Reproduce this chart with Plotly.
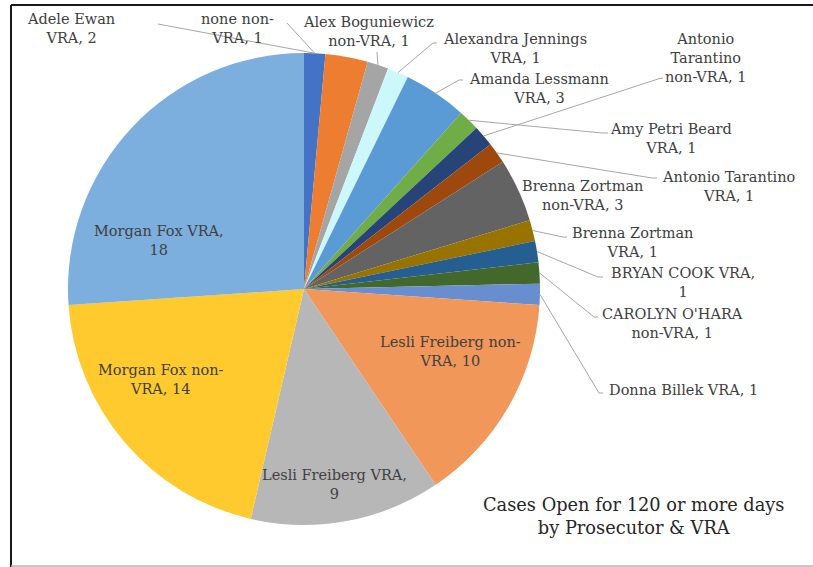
import math
import plotly.graph_objects as go

# ---------------- data ----------------
categories = [
    "none non-VRA", "Adele Ewan VRA", "Alex Boguniewicz non-VRA", "Alexandra Jennings VRA",
    "Amanda Lessmann VRA", "Amy Petri Beard VRA", "Antonio Tarantino non-VRA",
    "Antonio Tarantino VRA", "Brenna Zortman non-VRA", "Brenna Zortman VRA",
    "BRYAN COOK VRA", "CAROLYN O'HARA non-VRA", "Donna Billek VRA",
    "Lesli Freiberg non-VRA", "Lesli Freiberg VRA", "Morgan Fox non-VRA", "Morgan Fox VRA",
]
values = [1, 2, 1, 1, 3, 1, 1, 1, 3, 1, 1, 1, 1, 10, 9, 14, 18]
colors = [
    "#4472C4", "#ED7D31", "#A5A5A5", "#CCF8FC", "#5B9BD5", "#70AD47", "#264478",
    "#9E480E", "#636363", "#997300", "#255E91", "#43682B", "#698ED0",
    "#F1975A", "#B7B7B7", "#FFCA2E", "#7CAFDD",
]
# data label text, with the line breaks used in the chart
label_wrap = [
    "none non-<br>VRA, {v}", "Adele Ewan<br>VRA, {v}", "Alex Boguniewicz<br>non-VRA, {v}",
    "Alexandra Jennings<br>VRA, {v}", "Amanda Lessmann<br>VRA, {v}",
    "Amy Petri Beard<br>VRA, {v}", "Antonio<br>Tarantino<br>non-VRA, {v}",
    "Antonio Tarantino<br>VRA, {v}", "Brenna Zortman<br>non-VRA, {v}",
    "Brenna Zortman<br>VRA, {v}", "BRYAN COOK VRA,<br>{v}", "CAROLYN O'HARA<br>non-VRA, {v}",
    "Donna Billek VRA, {v}", "Lesli Freiberg non-<br>VRA, {v}", "Lesli Freiberg VRA,<br>{v}",
    "Morgan Fox non-<br>VRA, {v}", "Morgan Fox VRA,<br>{v}",
]
title_text = "Cases Open for 120 or more days<br>by Prosecutor & VRA"

# ---------------- layout (pixels) ----------------
W, H = 813, 567
# label centre positions (px)
label_pos = [
    (237, 29), (71, 29), (368, 31), (515, 48), (539, 88), (671, 138), (706, 58),
    (728, 186), (582, 195), (632, 242), (683, 282), (672, 323), (683, 390),
    (450, 351), (334, 484), (161, 379), (159, 240),
]
# leader line label-side points (px); None = no leader line
leader_start = [
    [(287, 23)], [(158, 24)], [(377, 52)], [(437, 43), (433, 43)], [(463, 80), (459, 80)],
    [(608, 133), (602, 133)], [(663, 78), (658, 79)], [(657, 178), (652, 178)], None,
    [(567, 237), (563, 237)], [(603, 277), (598, 277)], [(598, 317), (594, 317)],
    [(603, 393), (599, 393)], None, None, None, None,
]
# position along slice where the leader line touches the edge (0=start, 1=end)
leader_frac = [0.5, -0.25, 0.5, 0.5, 0.5, 0.5, 0.5, 0.5, 0.5, 0.5, 0.5, 0.5, 0.5, 0.5, 0.5, 0.5, 0.5]

dom_x = [68 / W, 540 / W]
dom_y = [1 - 525 / H, 1 - 53 / H]


def paper(x, y):
    return x / W, 1 - y / H


fig = go.Figure(go.Pie(
    labels=categories, values=values, sort=False, direction="clockwise", rotation=0,
    marker=dict(colors=colors, line=dict(width=0)), textinfo="none",
    hoverinfo="label+value", domain=dict(x=dom_x, y=dom_y), showlegend=False,
))

cx = (dom_x[0] + dom_x[1]) / 2 * W
cy = (1 - (dom_y[0] + dom_y[1]) / 2) * H
r = min((dom_x[1] - dom_x[0]) * W, (dom_y[1] - dom_y[0]) * H) / 2
total = sum(values)

annotations = []
shapes = []
cum = 0
font = dict(family="DejaVu Serif", size=14.5, color="#404040")
for i, (name, v) in enumerate(zip(categories, values)):
    lx, ly = label_pos[i]
    px_, py_ = paper(lx, ly)
    annotations.append(dict(text=label_wrap[i].format(v=v), x=px_, y=py_, xref="paper",
                            yref="paper", xanchor="center", yanchor="middle",
                            showarrow=False, font=font))
    if leader_start[i]:
        th = 2 * math.pi * (cum + leader_frac[i] * v) / total
        ax = cx + r * math.sin(th)
        ay = cy - r * math.cos(th)
        pts = leader_start[i] + [(ax, ay)]
        path = ""
        for k, (x, y) in enumerate(pts):
            qx, qy = paper(x, y)
            path += ("M " if k == 0 else " L ") + f"{qx:.5f} {qy:.5f}"
        shapes.append(dict(type="path", path=path, xref="paper", yref="paper",
                           line=dict(color="#A6A6A6", width=1)))
    cum += v

tx, ty = paper(634, 516)
annotations.append(dict(text=title_text, x=tx, y=ty, xref="paper", yref="paper",
                        xanchor="center", yanchor="middle", showarrow=False,
                        font=dict(family="DejaVu Serif", size=17.8, color="#262626")))

# chart frame
for (x0, y0, x1, y1, c, w) in [(11, 5, 813, 5, "#1a1a1a", 2), (11, 5, 11, 567, "#1a1a1a", 2),
                                (11, 566, 813, 566, "#b4b4b4", 1.5)]:
    a0, b0 = paper(x0, y0)
    a1, b1 = paper(x1, y1)
    shapes.append(dict(type="line", x0=a0, y0=b0, x1=a1, y1=b1, xref="paper", yref="paper",
                       line=dict(color=c, width=w)))

fig.update_layout(width=W, height=H, margin=dict(l=0, r=0, t=0, b=0), autosize=False,
                  paper_bgcolor="white", plot_bgcolor="white",
                  annotations=annotations, shapes=shapes)
fig.write_html("out.html", config={"displayModeBar": False},
               post_script="document.body.style.margin='0';document.body.style.overflow='hidden';")
